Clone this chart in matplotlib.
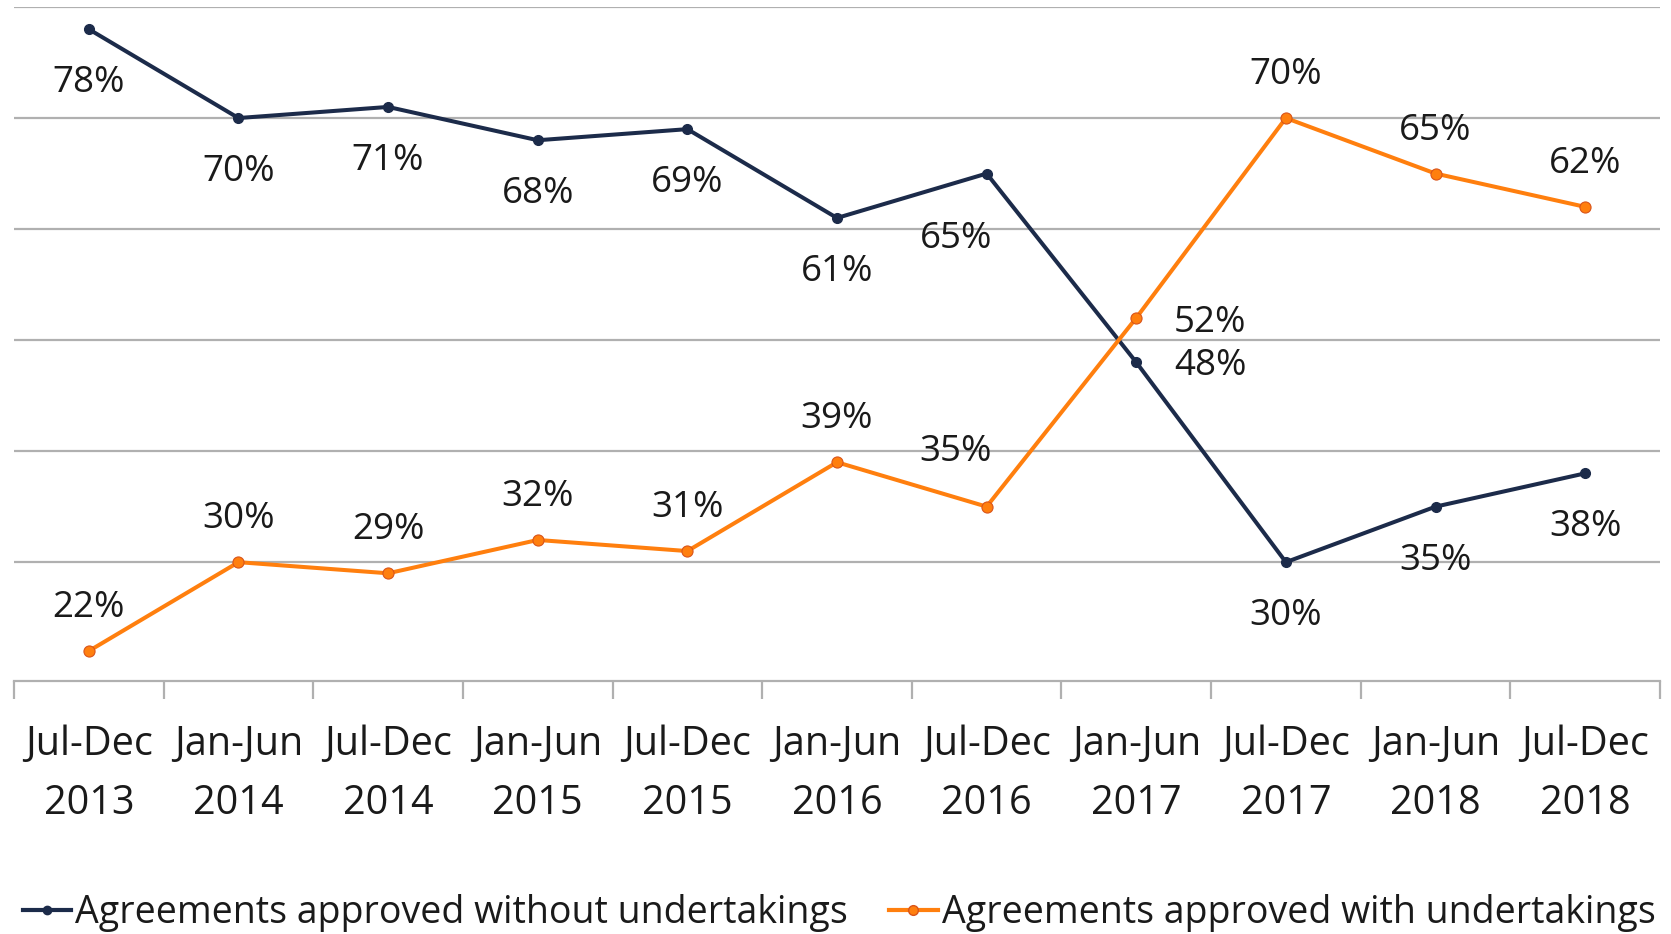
import matplotlib.pyplot as plt
from matplotlib.lines import Line2D

plt.rcParams['font.family'] = ['Open Sans', 'DejaVu Sans']

# Data
periods = ['Jul-Dec\n2013', 'Jan-Jun\n2014', 'Jul-Dec\n2014', 'Jan-Jun\n2015', 'Jul-Dec\n2015',
           'Jan-Jun\n2016', 'Jul-Dec\n2016', 'Jan-Jun\n2017', 'Jul-Dec\n2017', 'Jan-Jun\n2018',
           'Jul-Dec\n2018']
without_undertakings = [78, 70, 71, 68, 69, 61, 65, 48, 30, 35, 38]
with_undertakings = [22, 30, 29, 32, 31, 39, 35, 52, 70, 65, 62]
series_names = ['Agreements approved without undertakings', 'Agreements approved with undertakings']

NAVY = '#1c2b4a'
ORANGE = '#ff7f0e'
TEXT = '#1a1a1a'
GRID = '#b0b0b0'

fig = plt.figure(figsize=(16.71, 9.34), dpi=100)
ax = fig.add_axes([0.0084, 0.2709, 0.985, 0.7216])

x = list(range(len(periods)))
ax.plot(x, without_undertakings, color=NAVY, lw=2.9, marker='o', ms=7,
        mfc=NAVY, mec=NAVY, zorder=3)
ax.plot(x, with_undertakings, color=ORANGE, lw=2.9, marker='o', ms=8,
        mfc=ORANGE, mec='#d9541a', mew=0.8, zorder=3)

# label offsets (pixels)
def offset_dark(i):
    if i == 6:
        return (-31, -65)
    if i == 7:
        return (74, -4)
    return (0, -54)

def offset_orange(i):
    if i == 6:
        return (-31, 55)
    if i == 7:
        return (74, -5)
    return (0, 43)

for i, v in enumerate(without_undertakings):
    ax.annotate(f'{v}%', (i, v), xytext=offset_dark(i), textcoords='offset pixels',
                ha='center', va='center', fontsize=26.5, color=TEXT)
for i, v in enumerate(with_undertakings):
    ax.annotate(f'{v}%', (i, v), xytext=offset_orange(i), textcoords='offset pixels',
                ha='center', va='center', fontsize=26.5, color=TEXT)

ax.set_xlim(-0.5, len(periods) - 0.5)
ax.set_ylim(19.3, 80)
ax.set_yticks([30, 40, 50, 60, 70, 80])
ax.yaxis.grid(True, color=GRID, lw=1.6)
ax.set_axisbelow(True)
ax.tick_params(axis='y', left=False, labelleft=False)

ax.set_xticks(x)
ax.set_xticklabels(periods, fontsize=28.5, color=TEXT, linespacing=1.62)
ax.set_xticks([i - 0.5 for i in range(len(periods) + 1)], minor=True)
ax.tick_params(axis='x', which='major', length=0, pad=31)
ax.tick_params(axis='x', which='minor', length=13, width=1.6, color=GRID)

for s in ['left', 'right', 'top']:
    ax.spines[s].set_visible(False)
ax.spines['bottom'].set_color(GRID)
ax.spines['bottom'].set_linewidth(1.6)

handles = [
    Line2D([], [], color=NAVY, lw=3, marker='o', ms=6, mfc=NAVY, mec=NAVY),
    Line2D([], [], color=ORANGE, lw=3, marker='o', ms=7, mfc=ORANGE, mec='#d9541a'),
]
fig.legend(handles, series_names, loc='lower left', bbox_to_anchor=(0.0, -0.022),
           ncol=2, frameon=False, fontsize=27, handlelength=1.3, handletextpad=0.1,
           columnspacing=1.1, borderaxespad=0.2, labelcolor=TEXT)

fig.savefig('out.png', dpi=100)
